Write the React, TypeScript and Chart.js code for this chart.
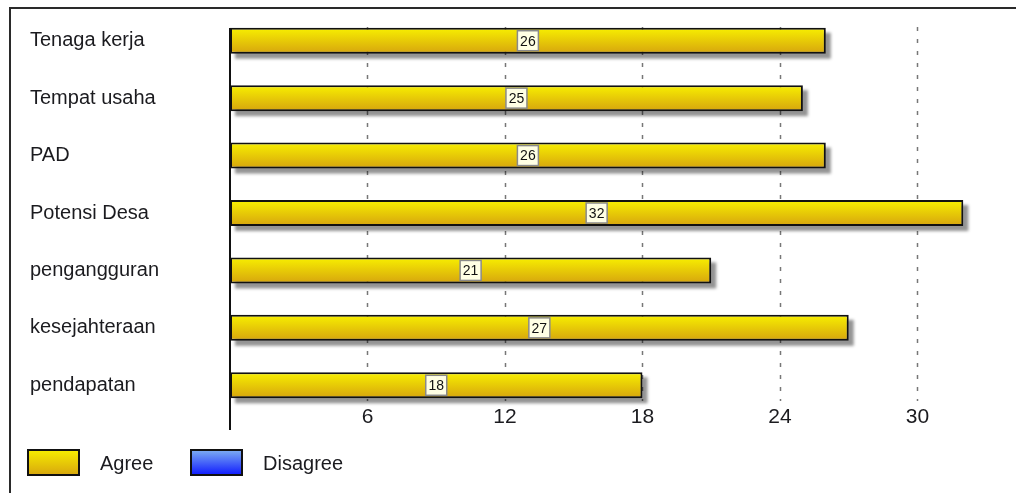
import { useEffect, useRef } from "react";
import { Chart, registerables } from "chart.js";

Chart.register(...registerables);

const categories = [
  "Tenaga kerja",
  "Tempat usaha",
  "PAD",
  "Potensi Desa",
  "pengangguran",
  "kesejahteraan",
  "pendapatan",
];
const agreeValues = [26, 25, 26, 32, 21, 27, 18];
const disagreeValues = [0, 0, 0, 0, 0, 0, 0];
const seriesLabels = ["Agree", "Disagree"];
const xTickValues = [6, 12, 18, 24, 30];

const FONT = "'Liberation Sans', Arial, sans-serif";
const TEXT = "#1b1b1f";
const gradTop = ["#f8f000", "#82b4f2"];
const gradBottom = ["#d6a40e", "#0a14ff"];

// vertical gradient per bar, computed from the category scale
const barGradient = (i: number) => (ctx: any) => {
  const chart = ctx.chart;
  const y = chart.scales?.y;
  if (!y || ctx.dataIndex === undefined) return gradBottom[i];
  const c = y.getPixelForValue(ctx.dataIndex);
  if (!Number.isFinite(c)) return gradBottom[i];
  const g = chart.ctx.createLinearGradient(0, c - 13, 0, c + 13);
  g.addColorStop(0, gradTop[i]);
  g.addColorStop(1, gradBottom[i]);
  return g;
};

// dashed grid, drop shadows (under the bars)
const underlayPlugin = {
  id: "underlay",
  beforeDatasetsDraw(chart: any) {
    const ctx = chart.ctx;
    const area = chart.chartArea;
    const xs = chart.scales.x;
    ctx.save();
    ctx.strokeStyle = "#777";
    ctx.lineWidth = 1.5;
    ctx.setLineDash([4, 8]);
    xTickValues.forEach((v) => {
      const px = Math.round(xs.getPixelForValue(v)) + 0.5;
      ctx.beginPath();
      ctx.moveTo(px, area.top + 15);
      ctx.lineTo(px, area.bottom - 13);
      ctx.stroke();
    });
    ctx.setLineDash([]);

    ctx.fillStyle = "rgba(0,0,0,0.42)";
    ctx.filter = "blur(1.5px)";
    chart.getDatasetMeta(0).data.forEach((bar: any) => {
      const { x, y, base, height } = bar.getProps(["x", "y", "base", "height"], true);
      ctx.fillRect(base + 5, y - height / 2 + 5, x - base, height);
    });
    ctx.restore();
  },
};

const overlayPlugin = {
  id: "overlay",
  afterDraw(chart: any) {
    const ctx = chart.ctx;
    const area = chart.chartArea;
    const xs = chart.scales.x;

    ctx.save();
    // value axis line
    ctx.strokeStyle = "#111";
    ctx.lineWidth = 2;
    ctx.beginPath();
    ctx.moveTo(area.left, area.top + 16);
    ctx.lineTo(area.left, area.bottom + 16);
    ctx.stroke();

    // value axis tick labels
    ctx.fillStyle = TEXT;
    ctx.font = `21px ${FONT}`;
    ctx.textAlign = "center";
    ctx.textBaseline = "middle";
    xTickValues.forEach((v) => {
      ctx.fillText(String(v), xs.getPixelForValue(v), area.bottom + 3);
    });

    // value boxes in the middle of each bar
    const meta = chart.getDatasetMeta(0);
    ctx.font = `14px ${FONT}`;
    meta.data.forEach((bar: any, i: number) => {
      const { x, y, base } = bar.getProps(["x", "y", "base"], true);
      const cx = (x + base) / 2;
      ctx.fillStyle = "#ffffe4";
      ctx.fillRect(cx - 10.5, y - 10, 21, 20);
      ctx.strokeStyle = "#8a8a8a";
      ctx.lineWidth = 1.5;
      ctx.strokeRect(cx - 10.5, y - 10, 21, 20);
      ctx.fillStyle = "#111";
      ctx.fillText(String(agreeValues[i]), cx, y + 1);
    });

    // legend
    const top = chart.height - 44;
    ctx.font = `20px ${FONT}`;
    ctx.textAlign = "left";
    chart.data.datasets.forEach((ds: any, i: number) => {
      const bx = 27 + i * 163;
      const g = ctx.createLinearGradient(0, top, 0, top + 27);
      g.addColorStop(0, gradTop[i]);
      g.addColorStop(1, gradBottom[i]);
      ctx.fillStyle = g;
      ctx.fillRect(bx, top, 53, 27);
      ctx.strokeStyle = "#111";
      ctx.lineWidth = 2;
      ctx.strokeRect(bx + 1, top + 1, 51, 25);
      ctx.fillStyle = TEXT;
      ctx.fillText(ds.label, bx + 73, top + 15);
    });
    ctx.restore();
  },
};

export default function App() {
  const canvasRef = useRef<HTMLCanvasElement | null>(null);
  const chartRef = useRef<Chart | null>(null);

  useEffect(() => {
    if (!canvasRef.current) return;
    if (chartRef.current) chartRef.current.destroy();

    chartRef.current = new Chart(canvasRef.current, {
      type: "bar",
      data: {
        labels: categories,
        datasets: [agreeValues, disagreeValues].map((values, i) => ({
          label: seriesLabels[i],
          data: values,
          backgroundColor: barGradient(i),
          borderColor: "#111",
          borderWidth: 2,
          borderSkipped: false,
          barThickness: 26,
          inflateAmount: 0,
          grouped: false,
        })),
      },
      options: {
        indexAxis: "y",
        animation: false,
        responsive: true,
        maintainAspectRatio: false,
        layout: { padding: { left: 30, top: 12, right: 0, bottom: 50 } },
        plugins: {
          legend: { display: false },
          tooltip: { enabled: false },
        },
        scales: {
          x: {
            type: "linear",
            min: 0,
            max: 34.3,
            afterBuildTicks: (scale: any) => {
              scale.ticks = xTickValues.map((v) => ({ value: v }));
            },
            grid: { display: false },
            border: { display: false },
            ticks: { display: false },
            afterFit: (scale: any) => {
              scale.height = 29;
            },
          },
          y: {
            type: "category",
            offset: true,
            grid: { display: false },
            border: { display: false },
            ticks: {
              crossAlign: "far",
              color: TEXT,
              padding: 0,
              font: { family: FONT, size: 20 },
            },
            afterFit: (scale: any) => {
              scale.width = 200;
            },
          },
        },
      },
      plugins: [underlayPlugin, overlayPlugin],
    } as any);

    return () => {
      if (chartRef.current) {
        chartRef.current.destroy();
        chartRef.current = null;
      }
    };
  }, []);

  return (
    <div
      style={{
        position: "fixed",
        left: 0,
        top: 0,
        width: 1016,
        height: 493,
        background: "#fff",
        overflow: "hidden",
      }}
    >
      <canvas ref={canvasRef} />
      <div
        style={{
          position: "absolute",
          left: 9,
          top: 7,
          width: 1100,
          height: 600,
          borderTop: "2px solid #2a2a2a",
          borderLeft: "2px solid #2a2a2a",
          pointerEvents: "none",
        }}
      />
    </div>
  );
}
